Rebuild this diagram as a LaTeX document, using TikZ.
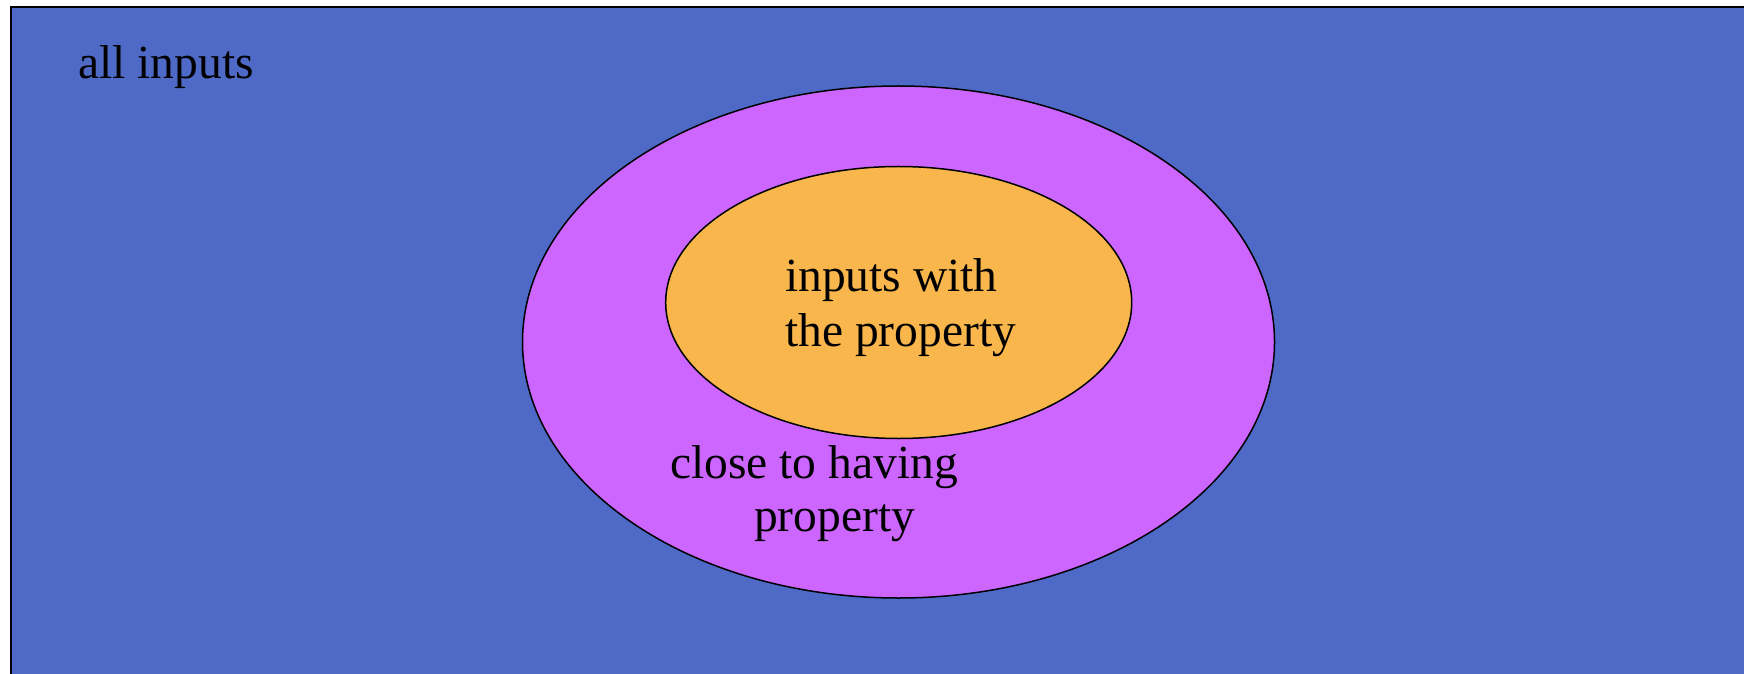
\documentclass[tikz,border=0pt]{standalone}
\usepackage{fontspec}
\setmainfont{Liberation Serif}
\usetikzlibrary{shapes.geometric}
\definecolor{bgblue}{RGB}{79,105,198}
\definecolor{ringpurple}{RGB}{204,102,255}
\definecolor{coreorange}{RGB}{249,182,76}
\tikzset{
  setshape/.style={ellipse, draw=black, line width=1.5pt, inner sep=0pt},
  lbl/.style={inner sep=0pt, anchor=base west, font=\fontsize{47.5}{55}\selectfont, text=black}
}
\begin{document}
\begin{tikzpicture}[x=1pt,y=1pt]
\useasboundingbox (0,0) rectangle (1744,673);
\clip (0,0) rectangle (1744,673);
\fill[white] (0,0) rectangle (1744,673);
\draw[fill=bgblue, draw=black, line width=2.2pt] (11,666) rectangle (1760,-20);
\node[setshape, fill=ringpurple, minimum width=752pt, minimum height=512pt] (outer) at (898.5,331) {};
\node[setshape, fill=coreorange, minimum width=466pt, minimum height=272pt] (inner) at (898.7,370.5) {};
\node[lbl] (all) at (78,594.7) {all inputs};
\node[lbl] (propA) at (785,381.3) {inputs with};
\node[lbl] (propB) at (785,326.3) {the property};
\node[lbl] (closeA) at (670,194.7) {close to having};
\node[lbl] (closeB) at (754,141.3) {property};
\end{tikzpicture}
\end{document}
